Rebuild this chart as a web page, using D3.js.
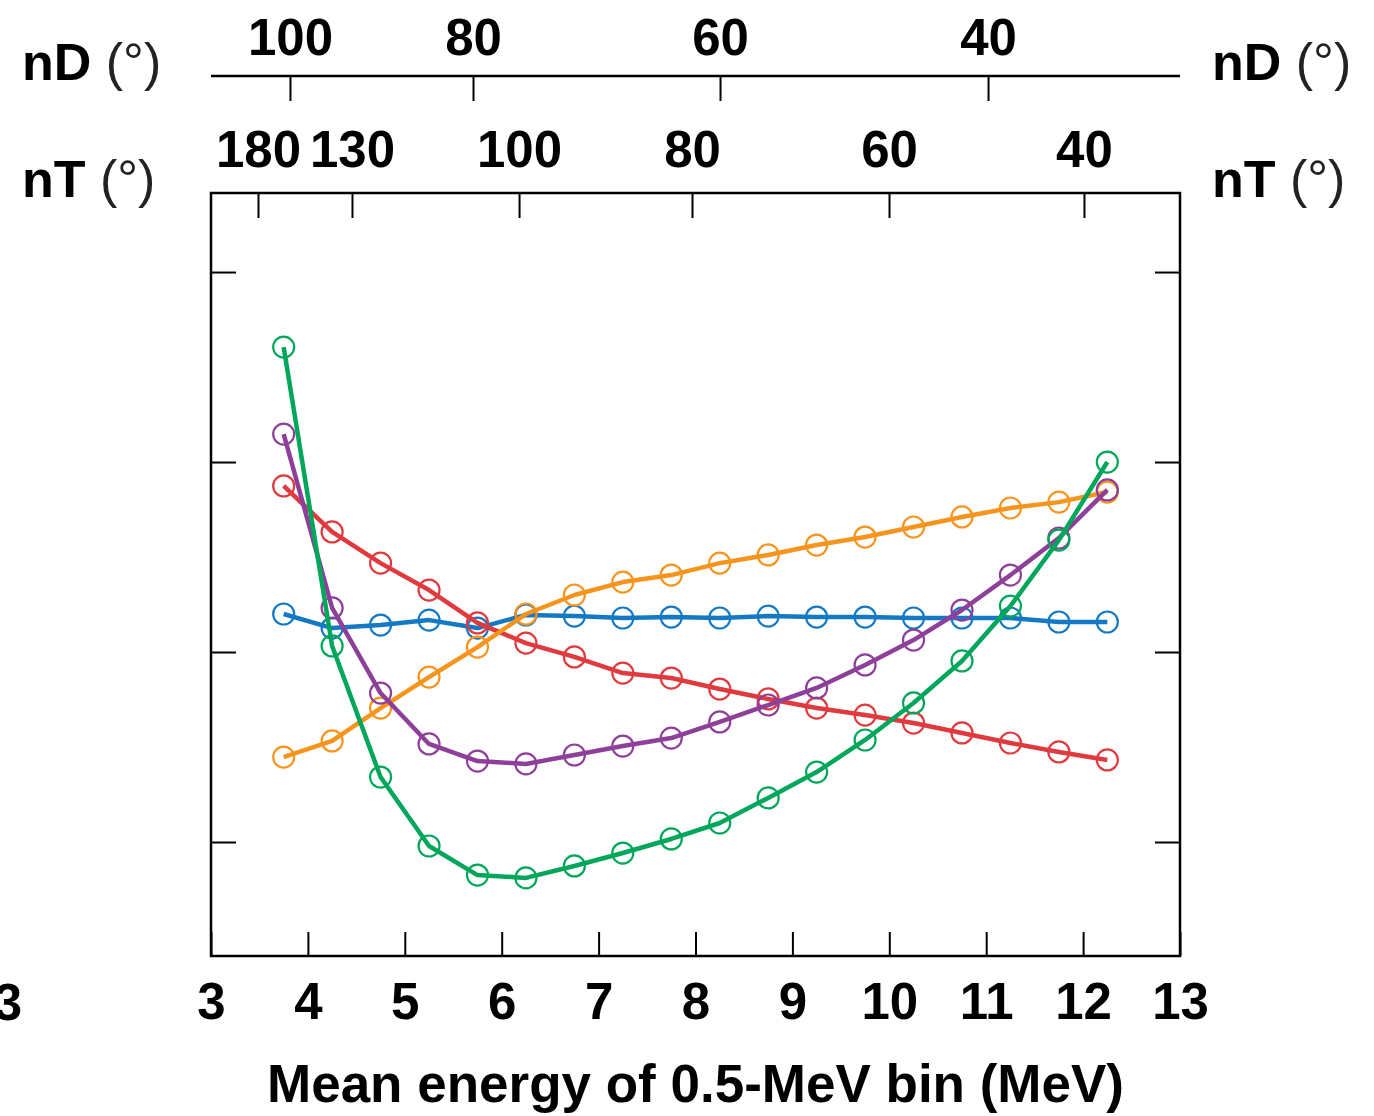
<!DOCTYPE html>
<html>
<head>
<meta charset="utf-8">
<script src="https://cdn.jsdelivr.net/npm/d3@7"></script>
<style>
  body { margin: 0; background: #fff; }
  text { font-family: "Liberation Sans", Arial, Helvetica, sans-serif; fill: #000; }
</style>
</head>
<body>
<div id="chart"></div>
<script>
// bin centres (MeV)
const energy = [3.75, 4.25, 4.75, 5.25, 5.75, 6.25, 6.75, 7.25, 7.75, 8.25, 8.75, 9.25, 9.75, 10.25, 10.75, 11.25, 11.75, 12.25];

// series values (arbitrary units, no y labels in the original)
const blueVals   = [2.200, 2.126, 2.142, 2.168, 2.126, 2.195, 2.189, 2.179, 2.184, 2.179, 2.189, 2.184, 2.184, 2.179, 2.179, 2.179, 2.158, 2.158];
const redVals    = [2.874, 2.632, 2.468, 2.326, 2.153, 2.047, 1.974, 1.889, 1.863, 1.805, 1.753, 1.705, 1.668, 1.626, 1.574, 1.521, 1.474, 1.432];
const orangeVals = [1.447, 1.532, 1.705, 1.868, 2.026, 2.200, 2.300, 2.368, 2.405, 2.468, 2.511, 2.563, 2.605, 2.658, 2.711, 2.758, 2.789, 2.842];
const purpleVals = [3.147, 2.232, 1.784, 1.516, 1.426, 1.411, 1.458, 1.505, 1.547, 1.632, 1.721, 1.811, 1.932, 2.063, 2.221, 2.405, 2.600, 2.853];
const greenVals  = [3.605, 2.032, 1.342, 0.979, 0.826, 0.811, 0.874, 0.942, 1.016, 1.100, 1.232, 1.368, 1.537, 1.732, 1.953, 2.242, 2.589, 3.000];

const xTicks = [3, 4, 5, 6, 7, 8, 9, 10, 11, 12, 13];
const yTicks = [1, 2, 3, 4];

// secondary axes: angle -> energy (MeV)
const ndAngles = [100, 80, 60, 40];
const ndEnergy = [3.815, 5.704, 8.253, 11.019];
const ntAngles = [180, 130, 100, 80, 60, 40];
const ntEnergy = [3.485, 4.455, 6.179, 7.964, 9.997, 12.009];

const series = [
  { name: 'blue',   color: '#1479c4', vals: blueVals },
  { name: 'red',    color: '#e03a3e', vals: redVals },
  { name: 'orange', color: '#f7941d', vals: orangeVals },
  { name: 'purple', color: '#8e3f99', vals: purpleVals },
  { name: 'green',  color: '#00a65a', vals: greenVals }
];

const W = 1374, H = 1116;
const margin = { top: 193, right: 194, bottom: 160, left: 211 };
const width = W - margin.left - margin.right;
const height = H - margin.top - margin.bottom;

const svg = d3.select('#chart').append('svg')
  .attr('width', W)
  .attr('height', H)
  .attr('viewBox', `0 0 ${W} ${H}`);

svg.append('rect').attr('width', W).attr('height', H).attr('fill', '#fff');

const g = svg.append('g').attr('transform', `translate(${margin.left},${margin.top})`);

const x = d3.scaleLinear().domain([3, 13]).range([0, width]);
const y = d3.scaleLinear().domain([0.4, 4.416]).range([height, 0]);

const ndScale = d3.scaleLinear().domain(ndAngles).range(ndEnergy);
const ntScale = d3.scaleLinear().domain(ntAngles).range(ntEnergy);

// bottom axis (ticks point inward)
g.append('g')
  .attr('transform', `translate(0,${height})`)
  .call(d3.axisBottom(x).tickValues(xTicks).tickSize(-24).tickPadding(40).tickFormat(d3.format('d')))
  .call(a => a.select('.domain').remove())
  .call(a => a.selectAll('line').attr('stroke', '#000').attr('stroke-width', 2))
  .call(a => a.selectAll('text').attr('font-size', 51).attr('font-weight', 'bold').attr('dy', '0.45em'));

// stray clipped "3" at the far left of the original
svg.append('text')
  .attr('x', 8).attr('y', 1020)
  .attr('text-anchor', 'middle')
  .attr('font-size', 51).attr('font-weight', 'bold')
  .text('3');

// left / right ticks
g.append('g')
  .call(d3.axisLeft(y).tickValues(yTicks).tickSize(-25).tickFormat(''))
  .call(a => a.select('.domain').remove())
  .call(a => a.selectAll('line').attr('stroke', '#000').attr('stroke-width', 2));
g.append('g')
  .attr('transform', `translate(${width},0)`)
  .call(d3.axisRight(y).tickValues(yTicks).tickSize(-25).tickFormat(''))
  .call(a => a.select('.domain').remove())
  .call(a => a.selectAll('line').attr('stroke', '#000').attr('stroke-width', 2));

// nT axis on the frame top
g.append('g')
  .call(d3.axisTop(x).tickValues(ntAngles.map(a => ntScale(a))).tickSize(-25).tickPadding(26)
    .tickFormat((d, i) => ntAngles[i]))
  .call(a => a.select('.domain').remove())
  .call(a => a.selectAll('line').attr('stroke', '#000').attr('stroke-width', 2))
  .call(a => a.selectAll('text').attr('font-size', 51).attr('font-weight', 'bold'));

// nD axis floating above
const ndAxis = g.append('g')
  .attr('transform', `translate(0,${76 - margin.top})`)
  .call(d3.axisTop(x).tickValues(ndAngles.map(a => ndScale(a))).tickSize(-25).tickPadding(21)
    .tickFormat((d, i) => ndAngles[i]))
  .call(a => a.select('.domain').remove())
  .call(a => a.selectAll('line').attr('stroke', '#000').attr('stroke-width', 2))
  .call(a => a.selectAll('text').attr('font-size', 51).attr('font-weight', 'bold'));
ndAxis.append('line')
  .attr('x1', 0).attr('x2', width).attr('y1', 0).attr('y2', 0)
  .attr('stroke', '#000').attr('stroke-width', 2.5);

// frame
g.append('rect')
  .attr('width', width).attr('height', height)
  .attr('fill', 'none').attr('stroke', '#000').attr('stroke-width', 2.5);

// series
const line = d3.line().x((d, i) => x(energy[i])).y(d => y(d));
series.forEach(s => {
  g.append('g').selectAll('circle')
    .data(s.vals)
    .enter().append('circle')
      .attr('cx', (d, i) => x(energy[i]))
      .attr('cy', d => y(d))
      .attr('r', 10.5)
      .attr('fill', 'none')
      .attr('stroke', s.color)
      .attr('stroke-width', 2.2);
  g.append('path')
    .datum(s.vals)
    .attr('d', line)
    .attr('fill', 'none')
    .attr('stroke', s.color)
    .attr('stroke-width', 4.5)
    .attr('stroke-linejoin', 'round');
});

// axis title
svg.append('text')
  .attr('x', margin.left + width / 2).attr('y', 1102)
  .attr('text-anchor', 'middle')
  .attr('font-size', 53).attr('font-weight', 'bold')
  .text('Mean energy of 0.5-MeV bin (MeV)');

// side labels
function sideLabel(xp, yp, name) {
  const t = svg.append('text').attr('x', xp).attr('y', yp).attr('font-size', 52);
  t.append('tspan').attr('font-weight', 'bold').text(name);
  t.append('tspan').attr('fill', '#222').text(' (°)');
}
sideLabel(22, 80, 'nD');
sideLabel(1212, 80, 'nD');
sideLabel(22, 197, 'nT');
sideLabel(1212, 197, 'nT');
</script>
</body>
</html>
